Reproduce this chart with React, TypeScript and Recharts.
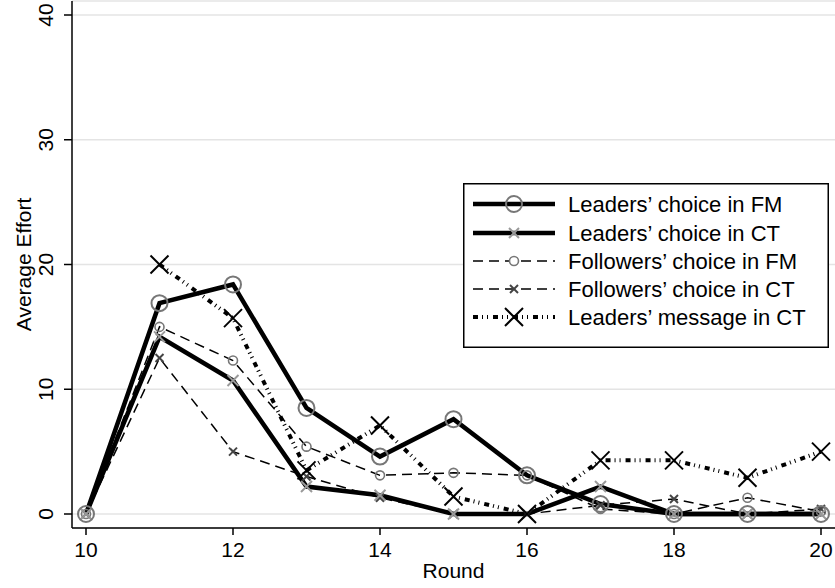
import React from 'react';
import { LineChart, Line, XAxis, YAxis, CartesianGrid, Label } from 'recharts';

const rounds = [10, 11, 12, 13, 14, 15, 16, 17, 18, 19, 20];
const leadersFM = [0, 16.9, 18.4, 8.5, 4.6, 7.6, 3.1, 0.8, 0, 0, 0];
const leadersCT = [0, 14.2, 10.7, 2.2, 1.5, 0, 0, 2.2, 0, 0, 0];
const followersFM = [0, 15.0, 12.3, 5.4, 3.1, 3.3, 3.1, 0.4, 0, 1.3, 0.2];
const followersCT = [0, 12.5, 5.0, 3.0, 1.3, 0, 0, 0.7, 1.2, 0, 0.4];
const leadersMsg = [null, 20.0, 15.7, 3.5, 7.1, 1.4, 0, 4.3, 4.3, 2.9, 5.0];

const xTicks = [10, 12, 14, 16, 18, 20];
const yTicks = [0, 10, 20, 30, 40];

const legendItems = [
  'Leaders\u2019 choice in FM',
  'Leaders\u2019 choice in CT',
  'Followers\u2019 choice in FM',
  'Followers\u2019 choice in CT',
  'Leaders\u2019 message in CT',
];

const data = rounds.map((r, i) => ({
  round: r,
  leadersFM: leadersFM[i],
  leadersCT: leadersCT[i],
  followersFM: followersFM[i],
  followersCT: followersCT[i],
  leadersMsg: leadersMsg[i],
}));

const FONT = '"Liberation Sans", Arial, Helvetica, sans-serif';
const MSG_DASH = '5 4 1 4 1 5';
const FOL_DASH = '10 6';

const circle = (r: number, stroke: string, w: number) => (props: any) => {
  const { cx, cy, index } = props;
  if (cx == null || cy == null) return <g key={`c${index}`} />;
  return <circle key={`c${index}`} cx={cx} cy={cy} r={r} fill="none" stroke={stroke} strokeWidth={w} />;
};

const cross = (s: number, stroke: string, w: number) => (props: any) => {
  const { cx, cy, index } = props;
  if (cx == null || cy == null) return <g key={`x${index}`} />;
  return (
    <g key={`x${index}`}>
      <line x1={cx - s} y1={cy - s} x2={cx + s} y2={cy + s} stroke={stroke} strokeWidth={w} />
      <line x1={cx - s} y1={cy + s} x2={cx + s} y2={cy - s} stroke={stroke} strokeWidth={w} />
    </g>
  );
};

const XTick = (props: any) => {
  const { x, payload } = props;
  return (
    <text x={x} y={557} textAnchor="middle" fontSize={21} fontFamily={FONT} fill="#000">
      {payload.value}
    </text>
  );
};

const YTick = (props: any) => {
  const { y, payload } = props;
  return (
    <text
      x={53}
      y={y}
      transform={`rotate(-90 53 ${y})`}
      textAnchor="middle"
      fontSize={21}
      fontFamily={FONT}
      fill="#000"
    >
      {payload.value}
    </text>
  );
};

const LegendBox = () => {
  const rows = [21, 50, 78, 106, 134];
  const sym = (i: number, cy: number) => {
    const cx = 51;
    if (i === 0)
      return (
        <g>
          <line x1={10} x2={92} y1={cy} y2={cy} stroke="#000" strokeWidth={4.5} />
          <circle cx={cx} cy={cy} r={8} fill="none" stroke="#777" strokeWidth={2} />
        </g>
      );
    if (i === 1)
      return (
        <g>
          <line x1={10} x2={92} y1={cy} y2={cy} stroke="#000" strokeWidth={4.5} />
          {cross(5, '#999', 2)({ cx, cy, index: 0 })}
        </g>
      );
    if (i === 2)
      return (
        <g>
          <line x1={10} x2={92} y1={cy} y2={cy} stroke="#000" strokeWidth={1.5} strokeDasharray={FOL_DASH} />
          <circle cx={cx} cy={cy} r={4.5} fill="#fff" stroke="#777" strokeWidth={1.6} />
        </g>
      );
    if (i === 3)
      return (
        <g>
          <line x1={10} x2={92} y1={cy} y2={cy} stroke="#000" strokeWidth={1.5} strokeDasharray={FOL_DASH} />
          {cross(4, '#444', 2)({ cx, cy, index: 0 })}
        </g>
      );
    return (
      <g>
        <line x1={10} x2={92} y1={cy} y2={cy} stroke="#000" strokeWidth={4} strokeDasharray={MSG_DASH} />
        {cross(9, '#000', 2)({ cx, cy, index: 0 })}
      </g>
    );
  };
  return (
    <svg
      width={366}
      height={165}
      style={{ position: 'absolute', left: 463, top: 183 }}
    >
      <rect x={0.75} y={0.75} width={364.5} height={163.5} fill="#fff" stroke="#000" strokeWidth={1.5} />
      {rows.map((cy, i) => (
        <g key={i}>
          {sym(i, cy)}
          <text x={105} y={cy + 8} fontSize={22} fontFamily={FONT} fill="#000">
            {legendItems[i]}
          </text>
        </g>
      ))}
    </svg>
  );
};

const App: React.FC = () => {
  return (
    <div style={{ position: 'absolute', left: 0, top: 0, width: 835, height: 588, background: '#fff' }}>
      <LineChart width={835} height={588} data={data} margin={{ top: 1, right: 0, left: 0, bottom: 0 }}>
        <CartesianGrid vertical={false} stroke="#e4e4e4" strokeWidth={1.5} />
        <XAxis
          dataKey="round"
          type="number"
          domain={[10, 20]}
          ticks={xTicks}
          padding={{ left: 14, right: 14 }}
          height={60}
          tickSize={7}
          tick={<XTick />}
          axisLine={{ stroke: '#000', strokeWidth: 1.5 }}
          tickLine={{ stroke: '#000', strokeWidth: 1.5 }}
        >
          <Label
            content={(p: any) => {
              const vb = p.viewBox || {};
              return (
                <text x={vb.x + vb.width / 2} y={578} textAnchor="middle" fontSize={21} fontFamily={FONT} fill="#000">
                  Round
                </text>
              );
            }}
          />
        </XAxis>
        <YAxis
          type="number"
          domain={[0, 40]}
          ticks={yTicks}
          width={72}
          padding={{ top: 14, bottom: 14 }}
          tickSize={8}
          tick={<YTick />}
          axisLine={{ stroke: '#000', strokeWidth: 1.5 }}
          tickLine={{ stroke: '#000', strokeWidth: 1.5 }}
        >
          <Label
            content={(p: any) => {
              const vb = p.viewBox || {};
              const cy = vb.y + vb.height / 2;
              return (
                <text
                  x={31}
                  y={cy}
                  transform={`rotate(-90 31 ${cy})`}
                  textAnchor="middle"
                  fontSize={21}
                  fontFamily={FONT}
                  fill="#000"
                >
                  Average Effort
                </text>
              );
            }}
          />
        </YAxis>
        <Line
          dataKey="followersFM"
          stroke="#000"
          strokeWidth={1.5}
          strokeDasharray={FOL_DASH}
          dot={circle(4.5, '#777', 1.6)}
          isAnimationActive={false}
        />
        <Line
          dataKey="followersCT"
          stroke="#000"
          strokeWidth={1.5}
          strokeDasharray={FOL_DASH}
          dot={cross(4, '#444', 2)}
          isAnimationActive={false}
        />
        <Line
          dataKey="leadersCT"
          stroke="#000"
          strokeWidth={4.5}
          strokeLinejoin="miter"
          dot={cross(5.5, '#999', 2)}
          isAnimationActive={false}
        />
        <Line
          dataKey="leadersFM"
          stroke="#000"
          strokeWidth={4.5}
          strokeLinejoin="miter"
          dot={circle(8, '#777', 2)}
          isAnimationActive={false}
        />
        <Line
          dataKey="leadersMsg"
          stroke="#000"
          strokeWidth={4}
          strokeDasharray={MSG_DASH}
          dot={cross(9, '#000', 2)}
          isAnimationActive={false}
        />
      </LineChart>
      <LegendBox />
    </div>
  );
};

export default App;
